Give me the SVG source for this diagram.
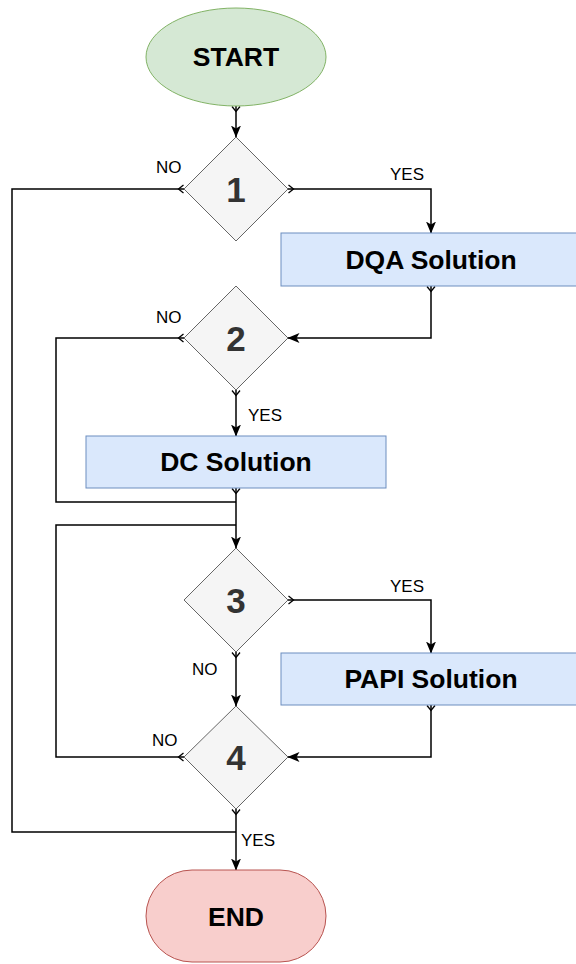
<svg xmlns="http://www.w3.org/2000/svg" width="576" height="964" viewBox="0 0 576 964">
<style>
.lbl{font-family:"Liberation Sans",Arial,sans-serif;font-size:17px;fill:#000}
.big{font-family:"Liberation Sans",Arial,sans-serif;font-size:26.5px;font-weight:bold;fill:#000;text-anchor:middle}
.dig{font-family:"Liberation Sans",Arial,sans-serif;font-size:35px;font-weight:bold;fill:#333;text-anchor:middle}
.dia{fill:#f5f5f5;stroke:#666;stroke-width:1}
.proc{fill:#dae8fc;stroke:#6c8ebf;stroke-width:1}
.edge{fill:none;stroke:#000;stroke-width:1.5;marker-start:url(#st)}
.arr{marker-end:url(#arr)}
</style>
<defs>
<marker id="arr" viewBox="0 0 12 10" refX="11.5" refY="5" markerWidth="12" markerHeight="10" orient="auto" markerUnits="userSpaceOnUse"><path d="M0,0 L12,5 L0,10 L3,5 z" fill="#000"/></marker>
<marker id="st" viewBox="0 0 8 10" refX="1" refY="5" markerWidth="8" markerHeight="10" orient="auto" markerUnits="userSpaceOnUse"><path d="M1.5,1 L6.5,5 L1.5,9" fill="none" stroke="#000" stroke-width="1.3"/></marker>
</defs>
<g id="connectors">
<path class="edge arr" d="M236,106 V137"/>
<path class="edge arr" d="M288,189 H431 V233"/>
<path class="edge" d="M184,189 H12 V832 H236"/>
<path class="edge arr" d="M431,286 V338 H288"/>
<path class="edge" d="M184,338 H56 V502 H236"/>
<path class="edge arr" d="M236,390 V436"/>
<path class="edge arr" d="M236,488 V548"/>
<path class="edge arr" d="M288,600 H431 V653"/>
<path class="edge arr" d="M236,652 V706"/>
<path class="edge arr" d="M431,705 V757 H288"/>
<path class="edge" d="M184,757 H56 V525 H236"/>
<path class="edge arr" d="M236,809 V870"/>
<text class="lbl" x="156" y="173">NO</text>
<text class="lbl" x="390" y="180">YES</text>
<text class="lbl" x="156" y="323">NO</text>
<text class="lbl" x="248" y="421">YES</text>
<text class="lbl" x="390" y="592">YES</text>
<text class="lbl" x="192" y="675">NO</text>
<text class="lbl" x="152" y="746">NO</text>
<text class="lbl" x="241" y="846">YES</text>
</g>
<g id="start"><ellipse cx="236" cy="57" rx="90" ry="49" fill="#d5e8d4" stroke="#82b366" stroke-width="1"/><text class="big" x="236" y="66">START</text></g>
<g id="d1"><polygon class="dia" points="236,137 288,189 236,241 184,189"/><text class="dig" x="236" y="202">1</text></g>
<g id="dqa"><rect class="proc" x="281" y="233" width="300" height="53"/><text class="big" x="431" y="269">DQA Solution</text></g>
<g id="d2"><polygon class="dia" points="236,286 288,338 236,390 184,338"/><text class="dig" x="236" y="351">2</text></g>
<g id="dc"><rect class="proc" x="86" y="436" width="300" height="52"/><text class="big" x="236" y="471">DC Solution</text></g>
<g id="d3"><polygon class="dia" points="236,548 288,600 236,652 184,600"/><text class="dig" x="236" y="613">3</text></g>
<g id="papi"><rect class="proc" x="281" y="653" width="300" height="52"/><text class="big" x="431" y="688">PAPI Solution</text></g>
<g id="d4"><polygon class="dia" points="236,706 288,757 236,809 184,757"/><text class="dig" x="236" y="770">4</text></g>
<g id="end"><rect x="146" y="870" width="180" height="92" rx="46" fill="#f8cecc" stroke="#b85450" stroke-width="1"/><text class="big" x="236" y="926">END</text></g>
</svg>
